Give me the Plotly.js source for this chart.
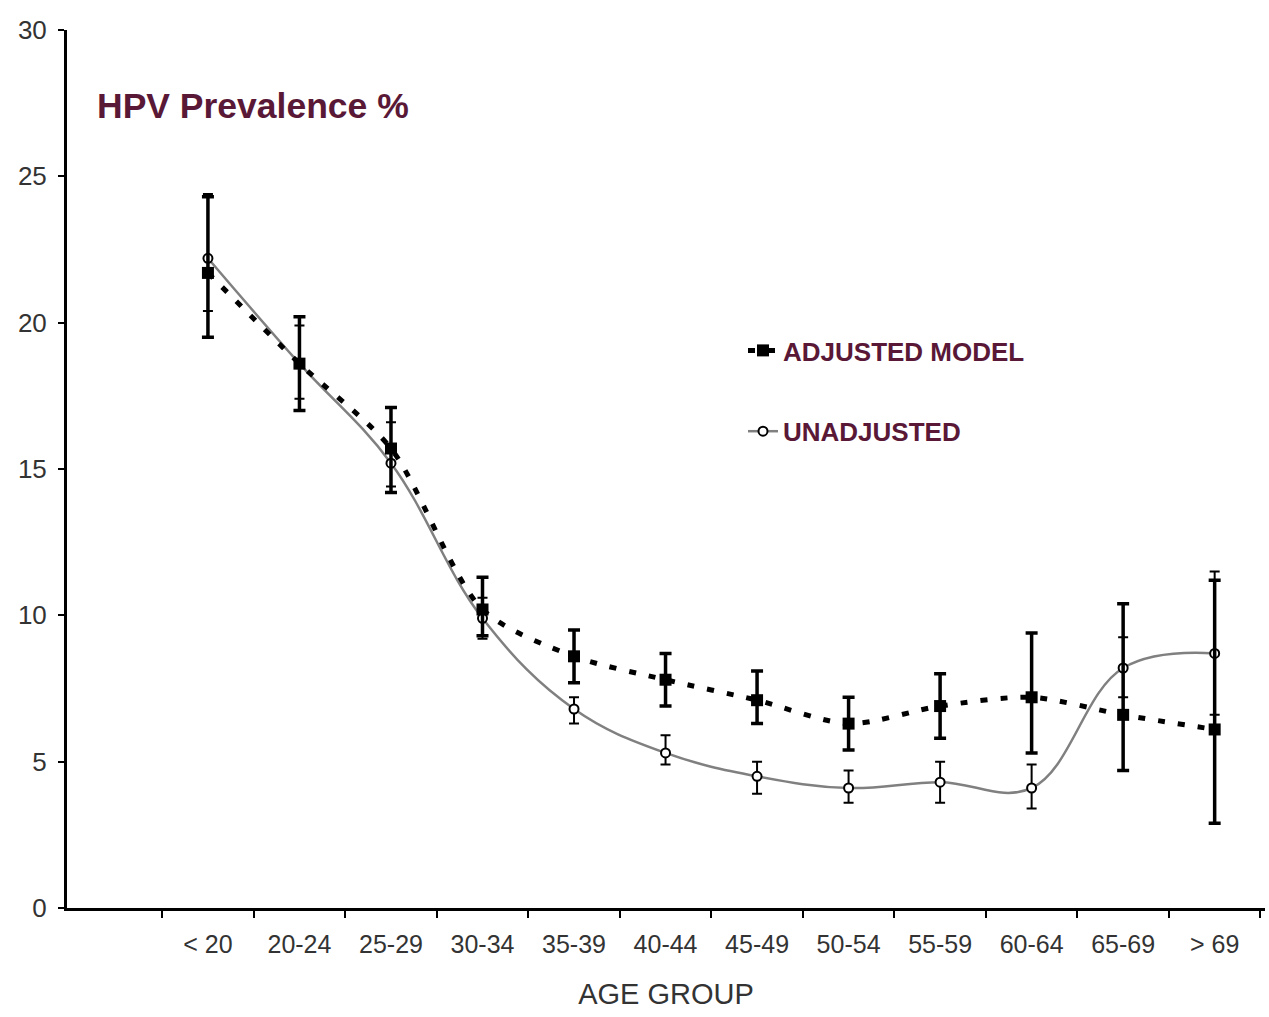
<!DOCTYPE html>
<html>
<head>
<meta charset="utf-8">
<script src="https://cdn.plot.ly/plotly-3.0.1.min.js"></script>
<style>html,body{margin:0;padding:0;background:#fff;}#chart{width:1269px;height:1017px;}</style>
</head>
<body>
<div id="chart"></div>
<script>
const ageGroups = ["< 20","20-24","25-29","30-34","35-39","40-44","45-49","50-54","55-59","60-64","65-69","> 69"];

const adjusted      = [21.7, 18.6, 15.7, 10.2, 8.6, 7.8, 7.1, 6.3, 6.9, 7.2, 6.6, 6.1];
const adjustedLow   = [19.5, 17.0, 14.2, 9.3, 7.7, 6.9, 6.3, 5.4, 5.8, 5.3, 4.7, 2.9];
const adjustedHigh  = [24.3, 20.2, 17.1, 11.3, 9.5, 8.7, 8.1, 7.2, 8.0, 9.4, 10.4, 11.2];

const unadjusted     = [22.2, 18.6, 15.2, 9.9, 6.8, 5.3, 4.5, 4.1, 4.3, 4.1, 8.2, 8.7];
const unadjustedLow  = [20.4, 17.4, 14.4, 9.2, 6.3, 4.9, 3.9, 3.6, 3.6, 3.4, 7.2, 6.6];
const unadjustedHigh = [24.4, 19.9, 16.6, 10.6, 7.2, 5.9, 5.0, 4.7, 5.0, 4.9, 9.25, 11.5];

const plus  = (v, hi) => v.map((x, i) => +(hi[i] - x).toFixed(3));
const minus = (v, lo) => v.map((x, i) => +(x - lo[i]).toFixed(3));

const traces = [
  {
    x: ageGroups, y: unadjusted, type: 'scatter', mode: 'lines+markers',
    name: 'UNADJUSTED', legendgroup: 'u', legendrank: 2,
    line: {color: '#808080', width: 2.5, shape: 'spline', smoothing: 1.1},
    marker: {symbol: 'circle', size: 9, color: '#ffffff', line: {color: '#000000', width: 2}},
    error_y: {type: 'data', symmetric: false, array: plus(unadjusted, unadjustedHigh),
              arrayminus: minus(unadjusted, unadjustedLow), color: '#000000', thickness: 2, width: 5}
  },
  {
    x: ageGroups, y: adjusted, type: 'scatter', mode: 'lines+markers',
    name: 'ADJUSTED MODEL', legendgroup: 'a', legendrank: 1,
    line: {color: '#000000', width: 5, dash: '7px,13px', shape: 'spline', smoothing: 0.8},
    marker: {symbol: 'square', size: 12, color: '#000000'},
    error_y: {type: 'data', symmetric: false, array: plus(adjusted, adjustedHigh),
              arrayminus: minus(adjusted, adjustedLow), color: '#000000', thickness: 3.5, width: 6}
  }
];

const layout = {
  width: 1269, height: 1017,
  paper_bgcolor: '#ffffff', plot_bgcolor: '#ffffff',
  margin: {l: 67, r: 4, t: 30, b: 109},
  font: {family: 'Liberation Sans, Arial, sans-serif', color: '#333333'},
  title: {
    text: '<b>HPV Prevalence %</b>',
    font: {family: 'Liberation Sans, Arial, sans-serif', size: 35.5, color: '#5a1837'},
    xref: 'container', yref: 'container', x: 97/1269, xanchor: 'left', y: 1 - 106/1017, yanchor: 'middle'
  },
  xaxis: {
    type: 'category', range: [-1.54, 11.55], tickson: 'boundaries',
    showline: true, linecolor: '#000000', linewidth: 3, showgrid: false, zeroline: false,
    ticks: 'outside', ticklen: 7, tickwidth: 2, tickcolor: '#000000',
    ticklabelstandoff: 12,
    tickfont: {size: 25, color: '#333333'},
    title: {text: 'AGE GROUP', font: {size: 29, color: '#333333'}, standoff: 27}
  },
  yaxis: {
    range: [0, 30], tickvals: [0, 5, 10, 15, 20, 25, 30],
    showline: true, linecolor: '#000000', linewidth: 3, showgrid: false, zeroline: false,
    ticks: 'outside', ticklen: 6, tickwidth: 2, tickcolor: '#000000',
    ticklabelstandoff: 6,
    tickfont: {size: 26, color: '#333333'}
  },
  showlegend: true,
  legend: {
    x: (743 - 67) / 1198, xanchor: 'left', y: (908 - 327) / 878, yanchor: 'top',
    traceorder: 'grouped', tracegroupgap: 44, itemwidth: 30,
    bgcolor: 'rgba(0,0,0,0)',
    font: {family: 'Liberation Sans, Arial, sans-serif', size: 26, color: '#5a1837', weight: 'bold'}
  }
};

Plotly.newPlot('chart', traces, layout, {displayModeBar: false, staticPlot: true});
</script>
</body>
</html>
